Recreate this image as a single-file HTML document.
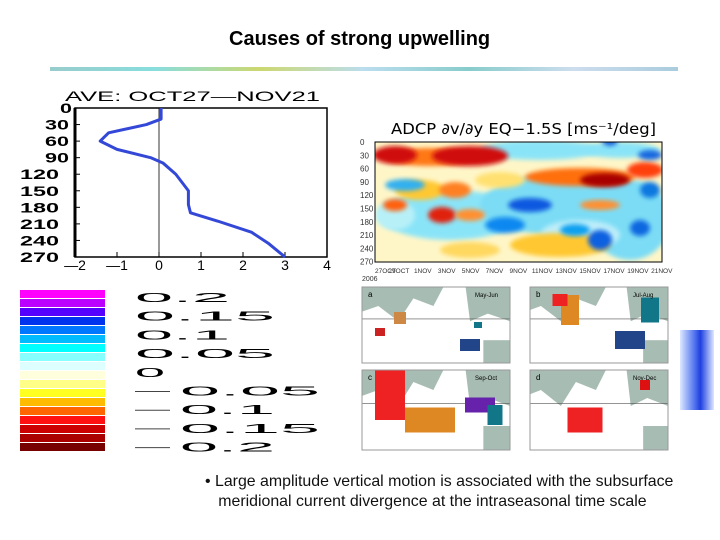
<!DOCTYPE html>
<html><head><meta charset="utf-8"><style>
body{margin:0;width:720px;height:540px;background:#fff;position:relative;overflow:hidden;font-family:"Liberation Sans",sans-serif}
.a{position:absolute}
</style></head><body>
<div class="a" style="left:229px;top:28px;font-size:20px;font-weight:bold;white-space:nowrap">Causes of strong upwelling</div>
<div class="a" style="left:50px;top:67px;width:628px;height:4px;background:linear-gradient(90deg,#9cc,#8dd,#ccd870,#bde,#8cc,#cde,#acd);"></div>
<div class="a" style="left:680px;top:330px;width:34px;height:80px;background:linear-gradient(90deg,#dde8ff,#5a7cf0 40%,#1f3fe0 60%,#dde8ff)"></div>

<svg class="a" style="left:0;top:0" width="720" height="540">
<g id="profile"></g>
<g id="cbar"></g>
<g id="heat"></g>
<g id="maps"></g>
</svg>

<div class="a" style="left:205px;top:472px;font-size:15.9px;line-height:20px;color:#111;white-space:nowrap">• Large amplitude vertical motion is associated with the subsurface<br>&nbsp;&nbsp;&nbsp;meridional current divergence at the intraseasonal time scale</div>

<script>
const NS='http://www.w3.org/2000/svg';
function mk(p,t,a,txt){const e=document.createElementNS(NS,t);for(const k in a)e.setAttribute(k,a[k]);if(txt!==undefined)e.textContent=txt;p.appendChild(e);return e;}
// ---- profile data
const depths=[0,20,30,45,60,75,90,100,120,140,150,175,190,205,225,245,270];
const values=[0.05,0.05,-0.3,-1.2,-1.4,-1.0,-0.2,0.1,0.4,0.6,0.7,0.7,0.75,1.4,2.2,2.6,3.0];
const yTicks=[0,30,60,90,120,150,180,210,240,270];
const xTicks=[-2,-1,0,1,2,3,4];
const X=v=>159+(v)*42, Y=d=>108+d*(149/270);
const P=document.getElementById('profile');
const pt=mk(P,'text',{x:65,y:101,'font-size':14,'textLength':255,'lengthAdjust':'spacingAndGlyphs'},'AVE:  OCT27—NOV21');

let r=mk(P,'rect',{x:75,y:108,width:252,height:149,fill:'none',stroke:'#000','stroke-width':1.5});

mk(P,'line',{x1:75,y1:108,x2:75,y2:257,stroke:'#000','stroke-width':3});
mk(P,'line',{x1:X(0),y1:108,x2:X(0),y2:257,stroke:'#000','stroke-width':0.8});
yTicks.forEach(d=>{mk(P,'line',{x1:75,y1:Y(d),x2:80,y2:Y(d),stroke:'#000'});
 const s=String(d);
 const t=mk(P,'text',{x:s.length===1?60:(s.length===2?45:20),y:Y(d)+5,'font-size':14,'font-weight':'bold','textLength':s.length*(s.length===3?13:12),'lengthAdjust':'spacingAndGlyphs'},s);
 });
xTicks.forEach(v=>{mk(P,'line',{x1:X(v),y1:257,x2:X(v),y2:252,stroke:'#000'});
 const t=mk(P,'text',{x:X(v),y:270,'font-size':14,'text-anchor':'middle'},v<0?'—'+(-v):v);
 });
const prof=mk(P,'polyline',{points:depths.map((d,i)=>X(values[i])+','+Y(d)).join(' '),fill:'none',stroke:'#3448d8','stroke-width':3,'stroke-linejoin':'round'});

// ---- colorbar
const cbColors=['#f0f','#b0f','#50f','#03e','#07f','#0bf','#0ff','#8ff','#dff','#ffd','#ff8','#ff2','#fb0','#f60','#f11','#c00','#a00','#700'];
const cbLabels=['0.2','0.15','0.1','0.05','0','0.05','0.1','0.15','0.2'];
const cbNeg=[false,false,false,false,false,true,true,true,true];
const C=document.getElementById('cbar');
cbColors.forEach((c,i)=>{const b=mk(C,'rect',{x:20,y:290+i*9,width:85,height:8,fill:c});});
cbLabels.forEach((l,i)=>{const y=302+i*18.7;const x0=cbNeg[i]?180:135;
 if(cbNeg[i])mk(C,'line',{x1:135,y1:y-4,x2:170,y2:y-4,stroke:'#444','stroke-width':1});
 const w={'0.2':95,'0.15':140,'0.1':95,'0.05':140,'0':30}[l];
 const t=mk(C,'text',{x:x0,y:y,'font-size':13,'textLength':w,'lengthAdjust':'spacingAndGlyphs'},l);
 });
// ---- heatmap
const H=document.getElementById('heat');
const defs=mk(H,'defs',{});const f=mk(defs,'filter',{id:'bl',x:'-30%',y:'-30%',width:'160%',height:'160%'});mk(f,'feGaussianBlur',{stdDeviation:2.5});
const cp=mk(defs,'clipPath',{id:'hc'});mk(cp,'rect',{x:375,y:142,width:287,height:120});
mk(H,'text',{x:391,y:134,'font-size':15,'font-family':'DejaVu Sans','textLength':265,'lengthAdjust':'spacingAndGlyphs'},'ADCP ∂v/∂y EQ−1.5S [ms⁻¹/deg]');
const g=mk(H,'g',{'clip-path':'url(#hc)'});
mk(g,'rect',{x:375,y:142,width:287,height:120,fill:'#fff6c8'});
const blobs=[
[450,215,70,25,'#8ae4f8'],[560,205,80,30,'#7cdcf5'],[630,220,40,40,'#7cdcf5'],[540,150,60,10,'#8ae4f8'],[620,150,40,8,'#8ae4f8'],
[395,215,20,15,'#b8f0f8'],[580,235,40,15,'#bdeefa'],
[420,190,25,10,'#ffc830'],[500,180,25,8,'#ffe070'],[560,245,50,12,'#ffc830'],[470,250,30,8,'#ffd860'],
[430,157,45,9,'#ff7818'],[395,155,22,9,'#d01010'],[470,156,38,10,'#d01010'],[580,177,55,9,'#ff7010'],[605,180,25,7,'#a80000'],[645,170,18,8,'#ff4010'],
[455,190,16,8,'#ff8020'],[442,215,14,8,'#e02010'],[395,205,12,6,'#ff6010'],[470,215,15,6,'#ff9030'],[600,205,20,5,'#ff9030'],
[405,185,20,6,'#30b0f0'],[530,205,22,7,'#0858e0'],[505,225,20,8,'#1088f0'],[575,230,15,6,'#10a0f0'],[600,240,12,10,'#0860e0'],[640,228,10,8,'#1068e0'],[650,190,10,8,'#1078e0'],[610,140,8,6,'#1868e0'],[650,155,12,5,'#1868e0']];
blobs.forEach(b=>mk(g,'ellipse',{cx:b[0],cy:b[1],rx:b[2],ry:b[3],fill:b[4],filter:'url(#bl)'}));
mk(H,'rect',{x:375,y:142,width:287,height:120,fill:'none',stroke:'#000'});
[0,30,60,90,120,150,180,210,240,270].forEach((d,i)=>mk(H,'text',{x:360,y:145+i*13.3,'font-size':8,fill:'#333'},d));
const dates=['27OCT','29OCT','1NOV','3NOV','5NOV','7NOV','9NOV','11NOV','13NOV','15NOV','17NOV','19NOV','21NOV'];
dates.forEach((d,i)=>mk(H,'text',{x:375+i*23.9,y:273,'font-size':6.5,'text-anchor':i?'middle':'start',fill:'#333'},d));
mk(H,'text',{x:362,y:281,'font-size':7,fill:'#333'},'2006');
// ---- maps
const M=document.getElementById('maps');
const panels=[[362,287,148,76,'a','May-Jun',[[470,345,20,12,'#248'],[400,318,12,12,'#c84'],[380,332,10,8,'#c22'],[478,325,8,6,'#178']]],
[530,287,138,76,'b','Jul-Aug',[[570,310,18,30,'#d82'],[560,300,15,12,'#e22'],[630,340,30,18,'#248'],[650,310,18,25,'#178']]],
[362,370,148,80,'c','Sep-Oct',[[390,395,30,50,'#e22'],[430,420,50,25,'#d82'],[480,405,30,15,'#62a'],[495,415,15,20,'#178']]],
[530,370,138,80,'d','Nov-Dec',[[585,420,35,25,'#e22'],[645,385,10,10,'#d11']]]];
panels.forEach(p=>{const [x,y,w,h,l,s,bl]=p;
 const cid='mc'+l;const c2=mk(defs,'clipPath',{id:cid});mk(c2,'rect',{x,y,width:w,height:h});
 const pg=mk(M,'g',{'clip-path':'url(#'+cid+')'});
 mk(pg,'rect',{x,y,width:w,height:h,fill:'#fff'});
 mk(pg,'path',{d:`M${x} ${y}h${w*0.55}l-10 ${h*0.25}l-20 -${h*0.1}l-15 ${h*0.3}l-20 -${h*0.2}l-${w*0.15} ${h*0.1}l-${w*0.1} ${h*0.5}h-5z`,fill:'#a7bcb2'});
 mk(pg,'path',{d:`M${x+w*0.7} ${y}h${w*0.3}v${h*0.45}l-${w*0.15} -${h*0.1}l-${w*0.12} ${h*0.1}z`,fill:'#a7bcb2'});
 mk(pg,'rect',{x:x+w*0.82,y:y+h*0.7,width:w*0.18,height:h*0.3,fill:'#a7bcb2'});
 mk(pg,'line',{x1:x,y1:y+h*0.42,x2:x+w,y2:y+h*0.42,stroke:'#555','stroke-width':0.6});
 bl.forEach(b=>mk(pg,'rect',{x:b[0]-b[2]/2,y:b[1]-b[3]/2,width:b[2],height:b[3],fill:b[4]}));
 mk(pg,'text',{x:x+6,y:y+10,'font-size':8},l);mk(pg,'text',{x:x+w-35,y:y+10,'font-size':6},s);
 mk(M,'rect',{x,y,width:w,height:h,fill:'none',stroke:'#999'});});
</script>
</body></html>
